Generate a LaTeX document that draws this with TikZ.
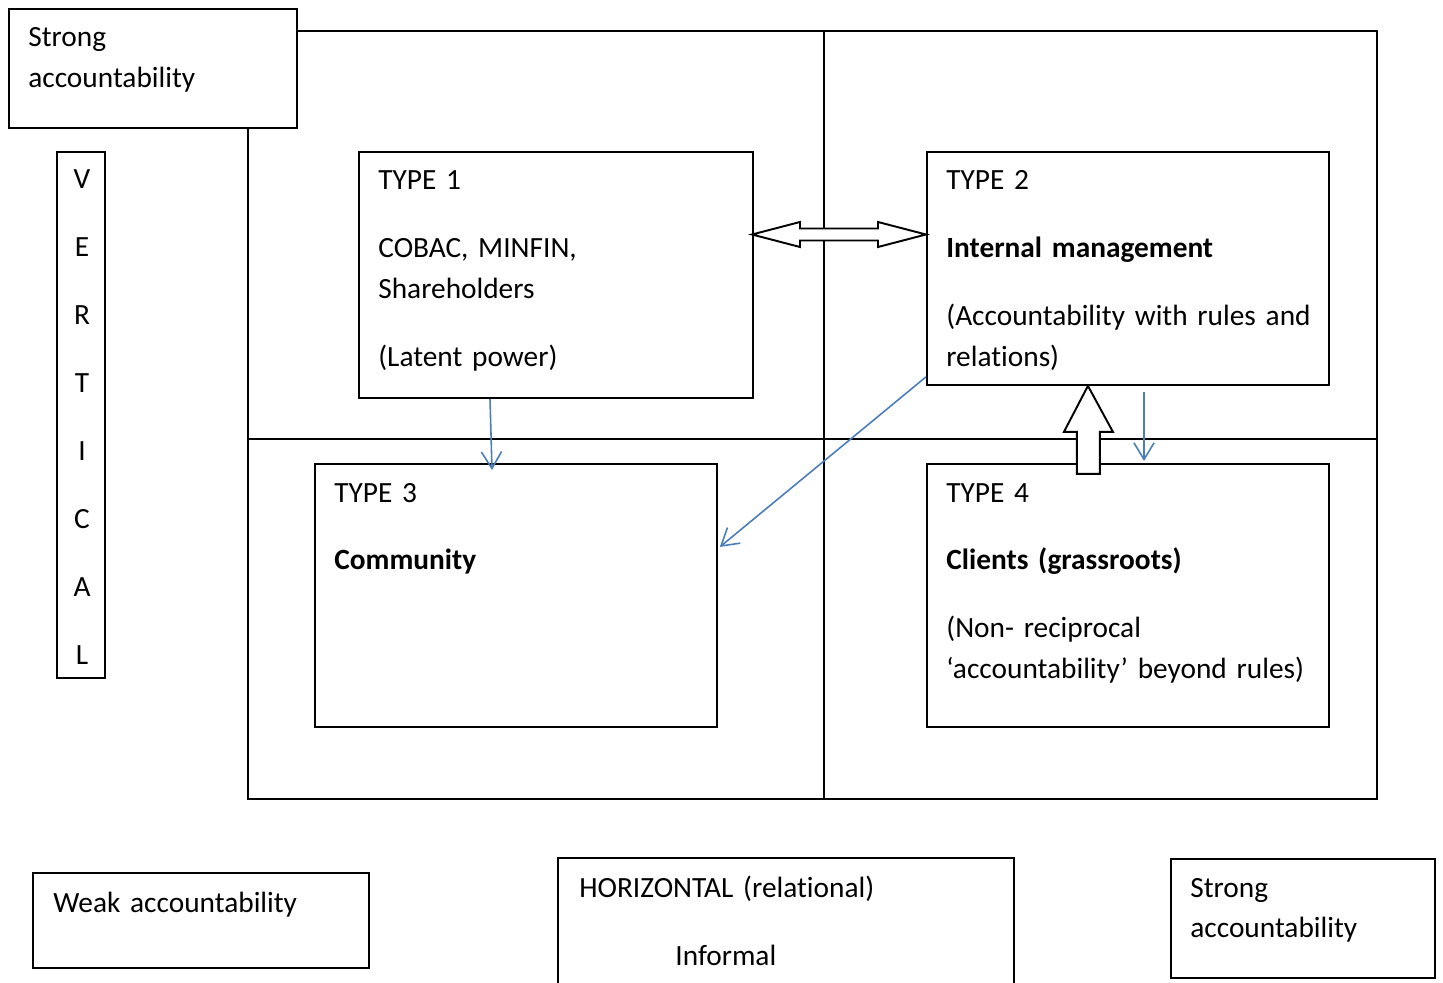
\documentclass[tikz,border=0pt]{standalone}
\usepackage{fontspec}
\setmainfont{Carlito}[Ligatures=NoCommon]
\usetikzlibrary{arrows.meta}
\definecolor{arrowblue}{RGB}{74,126,187}
\tikzset{
  box/.style={draw, line width=1.1pt, fill=white, inner sep=0pt, anchor=north west},
  txt/.style={anchor=base west, inner sep=0pt, align=left, text width=#1},
  txt/.default=8cm,
  link/.style={draw=arrowblue, line width=0.9pt, -{Straight Barb[length=9.5pt,width=11.5pt]}},
  block/.style={draw, line width=1.1pt, fill=white, line join=miter}
}
\newcommand{\pgap}{\\[15.4pt]}
\newcommand{\boxfont}{\fontsize{16.7pt}{23.3pt}\selectfont\spaceskip=0.19em plus 0.1em\relax}

\begin{document}
\begin{tikzpicture}[x=0.02cm, y=-0.02cm, font=\boxfont]
\useasboundingbox (0,0) rectangle (1443,983);
% quadrants
\draw[line width=1.1pt] (248,31) rectangle (1377,799);
\draw[line width=1.1pt] (824,31) -- (824,799);
\draw[line width=1.1pt] (248,439) -- (1377,439);

% corner and axis boxes
\node[box, minimum width=5.76cm, minimum height=2.38cm] (stl) at (8,8) {};
\node[txt] (stltxt) at (28,47) {Strong\\accountability};
\node[box, minimum width=0.96cm, minimum height=10.52cm] (vert) at (56,151) {};
\foreach \l [count=\i] in {V,E,R,T,I,C,A,L}
  \node[anchor=base, inner sep=0pt] (ltr\i) at (82,{189+(\i-1)*67.86}) {\l};

% the four types
\node[box, minimum width=7.88cm, minimum height=4.92cm] (t1) at (358,151) {};
\node[txt] (t1txt) at (378,190) {TYPE 1\pgap COBAC, MINFIN,\\Shareholders\pgap (Latent power)};
\node[box, minimum width=8.04cm, minimum height=4.66cm] (t2) at (926,151) {};
\node[txt] (t2txt) at (946,190) {TYPE 2\pgap \textbf{Internal management}\pgap (Accountability with rules and\\relations)};
\node[box, minimum width=8.04cm, minimum height=5.26cm] (t3) at (314,463) {};
\node[txt] (t3txt) at (334,502) {TYPE 3\pgap \textbf{Community}};
\node[box, minimum width=8.04cm, minimum height=5.26cm] (t4) at (926,463) {};
\node[txt] (t4txt) at (946,502) {TYPE 4\pgap \textbf{Clients (grassroots)}\pgap (Non- reciprocal\\‘accountability’ beyond rules)};

% bottom boxes
\node[box, minimum width=6.72cm, minimum height=1.90cm] (weak) at (32,872) {};
\node[txt] (weaktxt) at (53,912) {Weak accountability};
\draw[line width=1.1pt] (558,990) -- (558,858) -- (1014,858) -- (1014,990);
\node[txt] (hortxt) at (579,897) {HORIZONTAL (relational)};
\node[txt] (inftxt) at (675,965) {Informal};
\node[box, minimum width=5.28cm, minimum height=2.38cm] (sbr) at (1170,858) {};
\node[txt] (sbrtxt) at (1190,897) {Strong\\accountability};

% block arrows
\coordinate (dl) at (752,234.5);
\coordinate (dr) at (926,234.5);
\draw[block] (dl) -- ++(48,-12.5) -- ++(0,6.5) -- ++(78,0) -- ++(0,-6.5) -- (dr)
  -- ++(-48,12.5) -- ++(0,-6.5) -- ++(-78,0) -- ++(0,6.5) -- cycle;
\coordinate (up) at ([shift={(-40,0)}]t2.south);
\draw[block] (up) -- ++(25,46) -- ++(-13,0) -- ++(0,42) -- ++(-23,0) -- ++(0,-42) -- ++(-13,0) -- cycle;

% blue links
\draw[link] ([shift={(132,0)}]t1.south west) -- ([shift={(178,7)}]t3.north west);
\draw[link] ([shift={(218,6)}]t2.south west) -- ([shift={(218,-2)}]t4.north west);
\draw[link] ([shift={(0,-9)}]t2.south west) -- ([shift={(2,-48.5)}]t3.east);
\end{tikzpicture}
\end{document}
